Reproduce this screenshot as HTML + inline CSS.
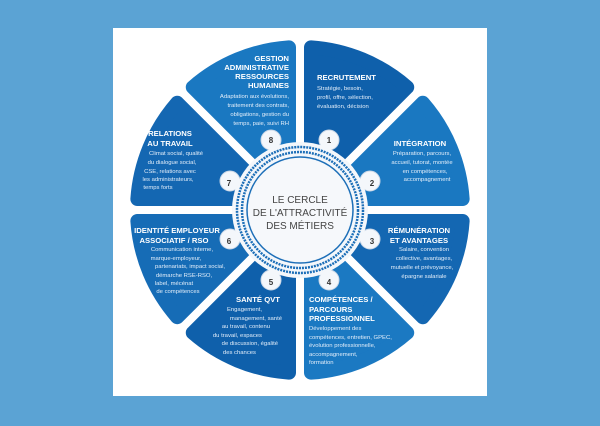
<!DOCTYPE html>
<html><head><meta charset="utf-8"><style>
html,body{margin:0;padding:0;background:#5ba3d4;}
svg{display:block;}
text{font-family:"Liberation Sans",sans-serif;fill:#fff;}
.t{font-weight:bold;font-size:7.7px;}
.b{font-size:5.9px;fill:#e3eefa;}
.n{font-size:8px;font-weight:bold;fill:#333;}
.c{font-size:10px;fill:#444;}
</style></head><body>
<svg width="600" height="426" viewBox="0 0 600 426">
<rect width="600" height="426" fill="#5ba3d4"/>
<rect x="113" y="28" width="374" height="368" fill="#fff"/>
<g stroke-linejoin="round" stroke-width="14">
<path fill="#0f60ab" stroke="#0f60ab" d="M311,183.45 L311,47.37 A163,163 0 0 1 407.22,87.22 Z"/>
<path fill="#1a78c1" stroke="#1a78c1" d="M326.55,199 L422.78,102.78 A163,163 0 0 1 462.63,199 Z"/>
<path fill="#1467b2" stroke="#1467b2" d="M326.55,221 L462.63,221 A163,163 0 0 1 422.78,317.22 Z"/>
<path fill="#1b79c2" stroke="#1b79c2" d="M311,236.55 L407.22,332.78 A163,163 0 0 1 311,372.63 Z"/>
<path fill="#0f60ab" stroke="#0f60ab" d="M289,236.55 L289,372.63 A163,163 0 0 1 192.78,332.78 Z"/>
<path fill="#166cb6" stroke="#166cb6" d="M273.45,221 L177.22,317.22 A163,163 0 0 1 137.37,221 Z"/>
<path fill="#1467b2" stroke="#1467b2" d="M273.45,199 L137.37,199 A163,163 0 0 1 177.22,102.78 Z"/>
<path fill="#1a78c1" stroke="#1a78c1" d="M289,183.45 L192.78,87.22 A163,163 0 0 1 289,47.37 Z"/>
</g>
<g fill="#f4f7fb" stroke="#c9d6e6" stroke-width="1">
<circle cx="271" cy="140" r="10"/><circle cx="329" cy="140" r="10"/>
<circle cx="370" cy="181" r="10"/><circle cx="370" cy="239" r="10"/>
<circle cx="329" cy="280" r="10"/><circle cx="271" cy="280" r="10"/>
<circle cx="230" cy="239" r="10"/><circle cx="230" cy="181" r="10"/>
</g>
<circle cx="300" cy="210" r="68" fill="#f4f7fb"/>
<circle cx="300" cy="210" r="63" fill="none" stroke="#1d6fb8" stroke-width="2.5" stroke-dasharray="2 1"/>
<circle cx="300" cy="210" r="58" fill="none" stroke="#1d6fb8" stroke-width="2.5" stroke-dasharray="2 1"/>
<circle cx="300" cy="210" r="53" fill="none" stroke="#1d6fb8" stroke-width="1.5"/>
<circle cx="300" cy="210" r="51" fill="#f6f8fb"/>
<g text-anchor="middle">
<text class="n" x="271" y="143">8</text><text class="n" x="329" y="143">1</text>
<text class="n" x="372" y="186">2</text><text class="n" x="372" y="244">3</text>
<text class="n" x="329" y="285">4</text><text class="n" x="271" y="285">5</text>
<text class="n" x="229" y="244">6</text><text class="n" x="229" y="186">7</text>
<text class="c" x="300" y="203">LE CERCLE</text>
<text class="c" x="300" y="216">DE L'ATTRACTIVITÉ</text>
<text class="c" x="300" y="229">DES MÉTIERS</text>
</g>
<g text-anchor="end">
<text class="t" x="289" y="61">GESTION</text>
<text class="t" x="289" y="70">ADMINISTRATIVE</text>
<text class="t" x="289" y="79">RESSOURCES</text>
<text class="t" x="289" y="88">HUMAINES</text>
<text class="b" x="289" y="98">Adaptation aux évolutions,</text>
<text class="b" x="289" y="107">traitement des contrats,</text>
<text class="b" x="289" y="116">obligations, gestion du</text>
<text class="b" x="289" y="125">temps, paie, suivi RH</text>
</g>
<g>
<text class="t" x="317" y="80">RECRUTEMENT</text>
<text class="b" x="317" y="90">Stratégie, besoin,</text>
<text class="b" x="317" y="99">profil, offre, sélection,</text>
<text class="b" x="317" y="108">évaluation, décision</text>
</g>
<g text-anchor="middle">
<text class="t" x="420" y="146">INTÉGRATION</text>
<text class="b" x="422" y="155">Préparation, parcours,</text>
<text class="b" x="422" y="164">accueil, tutorat, montée</text>
<text class="b" x="425" y="173">en compétences,</text>
<text class="b" x="427" y="181">accompagnement</text>
<text class="t" x="419" y="233">RÉMUNÉRATION</text>
<text class="t" x="419" y="243">ET AVANTAGES</text>
<text class="b" x="424" y="251">Salaire, convention</text>
<text class="b" x="424" y="260">collective, avantages,</text>
<text class="b" x="422" y="269">mutuelle et prévoyance,</text>
<text class="b" x="424" y="278">épargne salariale</text>
<text class="t" x="170" y="136">RELATIONS</text>
<text class="t" x="170" y="146">AU TRAVAIL</text>
<text class="b" x="176" y="155">Climat social, qualité</text>
<text class="b" x="172" y="164">du dialogue social,</text>
<text class="b" x="170" y="173">CSE, relations avec</text>
<text class="b" x="168" y="181">les administrateurs,</text>
<text class="b" x="158" y="189">temps forts</text>
<text class="t" x="177" y="233">IDENTITÉ EMPLOYEUR</text>
<text class="t" x="174" y="243">ASSOCIATIF / RSO</text>
<text class="b" x="182" y="251">Communication interne,</text>
<text class="b" x="176" y="260">marque-employeur,</text>
<text class="b" x="190" y="268">partenariats, impact social,</text>
<text class="b" x="184" y="277">démarche RSE-RSO,</text>
<text class="b" x="174" y="285">label, mécénat</text>
<text class="b" x="178" y="293">de compétences</text>
</g>
<g text-anchor="end">
<text class="t" x="280" y="302">SANTÉ QVT</text>
<text class="b" x="262" y="311">Engagement,</text>
<text class="b" x="282" y="320">management, santé</text>
<text class="b" x="270" y="328">au travail, contenu</text>
<text class="b" x="262" y="337">du travail, espaces</text>
<text class="b" x="278" y="345">de discussion, égalité</text>
<text class="b" x="256" y="354">des chances</text>
</g>
<g>
<text class="t" x="309" y="302">COMPÉTENCES /</text>
<text class="t" x="309" y="312">PARCOURS</text>
<text class="t" x="309" y="321">PROFESSIONNEL</text>
<text class="b" x="309" y="330">Développement des</text>
<text class="b" x="309" y="339">compétences, entretien, GPEC,</text>
<text class="b" x="309" y="347">évolution professionnelle,</text>
<text class="b" x="309" y="356">accompagnement,</text>
<text class="b" x="309" y="364">formation</text>
</g>
</svg>
</body></html>
